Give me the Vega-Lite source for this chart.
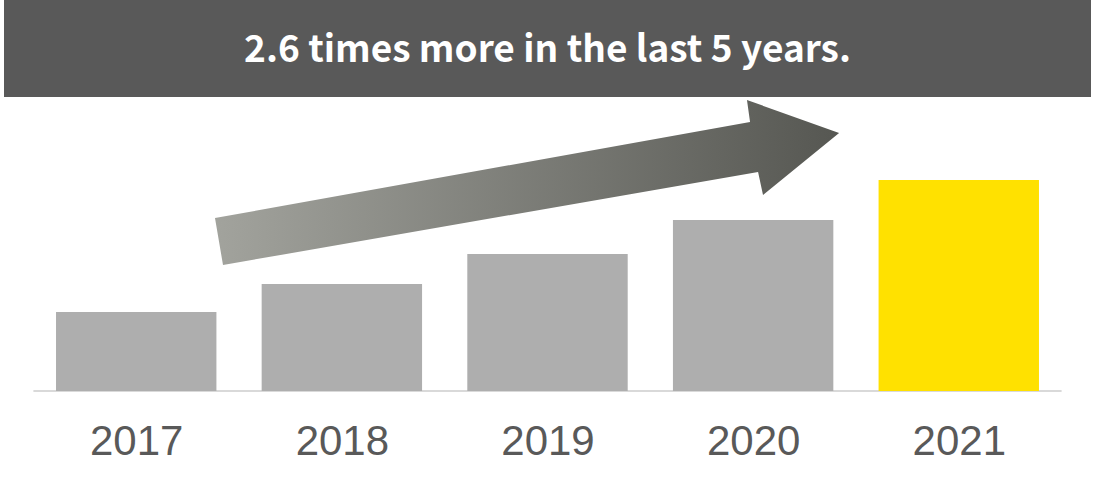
{
  "$schema": "https://vega.github.io/schema/vega-lite/v6.json",
  "width": 1087,
  "height": 391,
  "padding": {"left": 4, "right": 4, "top": 0, "bottom": 86},
  "autosize": {"type": "none"},
  "background": "white",
  "config": {"view": {"stroke": null}},
  "datasets": {
    "bars": [
      {"year": 2017, "value": 79},
      {"year": 2018, "value": 107},
      {"year": 2019, "value": 137},
      {"year": 2020, "value": 171},
      {"year": 2021, "value": 211}
    ],
    "arrow": [
      {"i": 0, "yr": 2017.422, "v": 126},
      {"i": 1, "yr": 2017.383, "v": 173},
      {"i": 2, "yr": 2019.985, "v": 269},
      {"i": 3, "yr": 2019.970, "v": 291},
      {"i": 4, "yr": 2020.418, "v": 258},
      {"i": 5, "yr": 2020.048, "v": 196},
      {"i": 6, "yr": 2020.024, "v": 219},
      {"i": 7, "yr": 2017.422, "v": 126}
    ],
    "banner": [
      {"text": "2.6 times more in the last 5 years.", "bottom": 294, "top": 391, "mid": 340}
    ],
    "baseline": [
      {"start": 2016.5, "end": 2021.5, "v": 0}
    ]
  },
  "encoding": {
    "x": {
      "type": "quantitative",
      "scale": {"domain": [2016.357, 2021.643], "nice": false, "zero": false, "padding": 0},
      "axis": {"values": [2017, 2018, 2019, 2020, 2021], "format": "d", "labelFlush": false, "labelOverlap": false, "domain": false, "ticks": false, "title": null, "labelAngle": 0, "labelFontSize": 42, "labelColor": "#595959", "labelFont": "Liberation Sans", "labelPadding": 30, "grid": false}
    },
    "y": {"type": "quantitative", "scale": {"domain": [0, 391], "nice": false, "zero": false, "padding": 0}, "axis": null}
  },
  "layer": [
    {
      "data": {"name": "baseline"},
      "mark": {"type": "rule", "color": "#d9d9d9", "strokeWidth": 2},
      "encoding": {
        "x": {"field": "start", "type": "quantitative"},
        "x2": {"field": "end"},
        "y": {"field": "v", "type": "quantitative"}
      }
    },
    {
      "data": {"name": "bars"},
      "mark": {"type": "bar", "width": 160.4},
      "encoding": {
        "x": {"field": "year", "type": "quantitative"},
        "y": {"field": "value", "type": "quantitative"},
        "color": {"condition": {"test": "datum.year == 2021", "value": "#FFE100"}, "value": "#AEAEAE"}
      }
    },
    {
      "data": {"name": "arrow"},
      "mark": {
        "type": "line",
        "fill": {"gradient": "linear", "x1": 0, "y1": 0, "x2": 1, "y2": 0, "stops": [{"offset": 0, "color": "#a2a39d"}, {"offset": 1, "color": "#565752"}]},
        "strokeWidth": 0,
        "strokeOpacity": 0
      },
      "encoding": {
        "x": {"field": "yr", "type": "quantitative"},
        "y": {"field": "v", "type": "quantitative"},
        "order": {"field": "i", "type": "quantitative"}
      }
    },
    {
      "data": {"name": "banner"},
      "mark": {"type": "rect", "color": "#595959"},
      "encoding": {
        "y": {"field": "bottom", "type": "quantitative"},
        "y2": {"field": "top"}
      }
    },
    {
      "data": {"name": "banner"},
      "mark": {"type": "text", "color": "white", "font": "Noto Sans CJK JP", "fontWeight": "bold", "fontSize": 37, "baseline": "middle", "align": "center"},
      "encoding": {
        "text": {"field": "text"},
        "y": {"field": "mid", "type": "quantitative"}
      }
    }
  ]
}
